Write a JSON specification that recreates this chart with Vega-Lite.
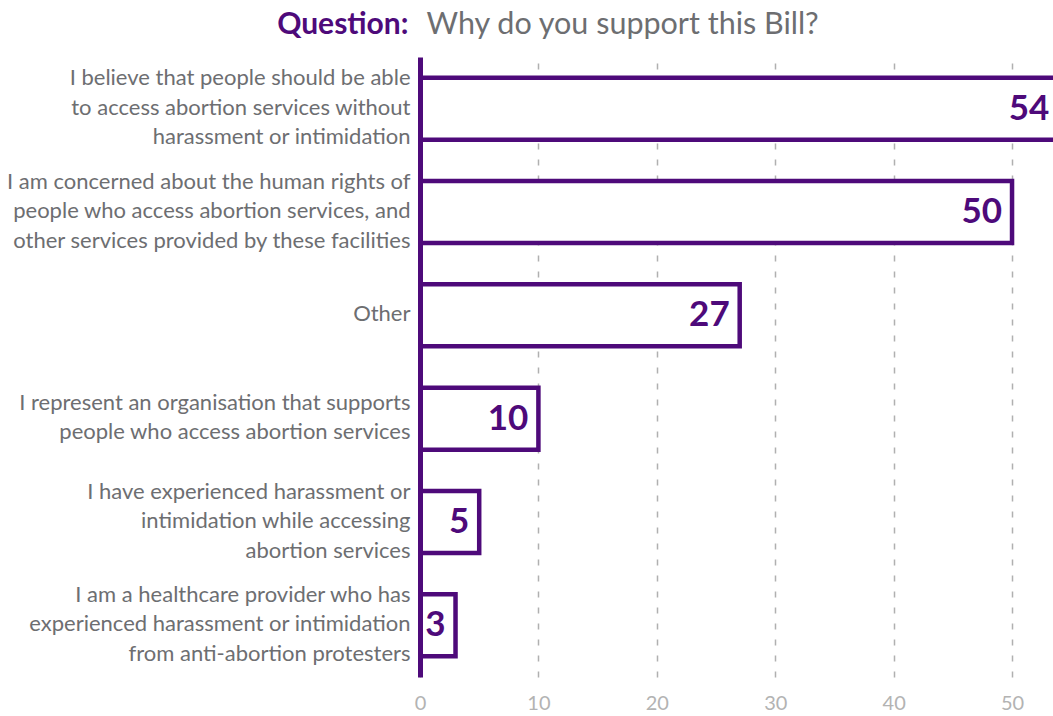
{
  "$schema": "https://vega.github.io/schema/vega-lite/v6.json",
  "width": 633,
  "height": 620,
  "autosize": {"type": "none"},
  "padding": {"left": 420, "top": 57, "right": 0, "bottom": 39},
  "background": "white",
  "config": {"font": "Lato", "view": {"stroke": null}},
  "data": {
    "values": [
      {"reason": "I believe that people should be able|to access abortion services without|harassment or intimidation", "count": 54},
      {"reason": "I am concerned about the human rights of|people who access abortion services, and|other services provided by these facilities", "count": 50},
      {"reason": "Other", "count": 27},
      {"reason": "I represent an organisation that supports|people who access abortion services", "count": 10},
      {"reason": "I have experienced harassment or|intimidation while accessing|abortion services", "count": 5},
      {"reason": "I am a healthcare provider who has|experienced harassment or intimidation|from anti-abortion protesters", "count": 3}
    ]
  },
  "encoding": {
    "y": {
      "field": "reason",
      "type": "nominal",
      "sort": null,
      "scale": {"paddingInner": 0.4, "paddingOuter": 0.2},
      "axis": {
        "title": "Question:",
        "titleAngle": 0,
        "titleX": -12,
        "titleY": -24,
        "titleAlign": "right",
        "titleBaseline": "alphabetic",
        "titleFontSize": 30,
        "titleFontWeight": "bold",
        "titleColor": "#4e0a7a",
        "titleFont": "Lato",
        "domainColor": "#4e0a7a",
        "domainWidth": 5,
        "ticks": false,
        "labelPadding": 10,
        "labelFontSize": 22,
        "labelColor": "#6d6e71",
        "labelLineHeight": 29.5,
        "labelLimit": 0,
        "labelBaseline": "middle",
        "labelExpr": "split(datum.label, '|')",
        "labelOffset": {"expr": "-(length(split(datum.value, '|')) - 1) * 14.75 - 1"},
        "zindex": 1
      }
    },
    "x": {
      "field": "count",
      "type": "quantitative",
      "scale": {"domain": [0, 53.46], "nice": false},
      "axis": {
        "title": "Why do you support this Bill?",
        "titleX": 6,
        "titleY": -644,
        "titleAlign": "left",
        "titleAnchor": "start",
        "titleBaseline": "alphabetic",
        "titleFontSize": 30.5,
        "titleFontWeight": "normal",
        "titleColor": "#6d6e71",
        "titleFont": "Lato",
        "values": [0, 10, 20, 30, 40, 50],
        "grid": true,
        "gridDash": [6, 10],
        "gridColor": "#b0b0b0",
        "gridWidth": 1.5,
        "ticks": false,
        "domain": false,
        "labelFlush": false,
        "labelColor": "#b3b3b3",
        "labelFontSize": 20,
        "labelPadding": 16
      }
    }
  },
  "layer": [
    {"mark": {"type": "bar", "fill": "white", "stroke": "#4e0a7a", "strokeWidth": 4.5, "clip": true}},
    {
      "mark": {"type": "text", "align": "right", "baseline": "middle", "dx": -10, "fontSize": 35, "fontWeight": "bold", "color": "#4e0a7a", "font": "Lato"},
      "encoding": {"text": {"field": "count", "type": "quantitative"}}
    }
  ]
}
